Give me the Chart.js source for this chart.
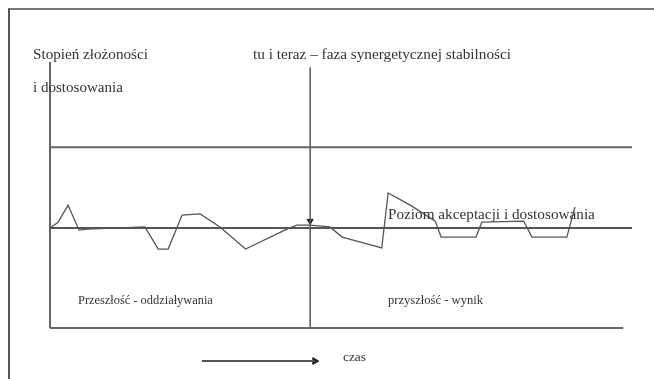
<!DOCTYPE html>
<html><head><meta charset="utf-8">
<script src="https://cdn.jsdelivr.net/npm/chart.js@4/dist/chart.umd.min.js"></script>
<style>
html,body{margin:0;padding:0;background:#fff;overflow:hidden;}
#wrap{position:relative;width:654px;height:379px;}
#frame{position:absolute;left:8px;top:8px;width:700px;height:400px;border-left:2px solid #555;border-top:2px solid #777;box-sizing:border-box;}
canvas{position:absolute;left:0;top:0;}
</style></head>
<body><div id="wrap"><div id="frame"></div><canvas id="c" width="654" height="379"></canvas></div>
<script>
// Conceptual time axis (0..100) and level axis (0..100)
const waveX = [0, 1.4, 3.1, 5.0, 6.4, 16.3, 18.6, 20.3, 22.7, 25.8, 29.2, 33.6, 40.7, 42.4, 44.7, 48.1, 50.2, 57.0, 58.1, 61.9, 66.2, 67.2, 73.2, 74.2, 81.4, 82.8, 88.8, 90.2];
const waveY = [37.6, 39.8, 46.2, 36.8, 37.2, 38.0, 29.7, 29.7, 42.5, 42.9, 38.0, 29.7, 37.2, 38.7, 38.7, 38.0, 34.2, 30.1, 50.8, 46.2, 40.2, 34.2, 34.2, 39.8, 40.2, 34.2, 34.2, 45.5];
const upperLevel = 68;       // upper boundary
const acceptLevel = 37.6;    // "Poziom akceptacji i dostosowania"
const nowX = 44.7;           // "tu i teraz"
const labels = {
  yTitle1: "Stopień złożoności",
  yTitle2: "i dostosowania",
  now: "tu i teraz – faza synergetycznej stabilności",
  accept: "Poziom akceptacji i dostosowania",
  past: "Przeszłość - oddziaływania",
  future: "przyszłość - wynik",
  time: "czas"
};
const timeArrowX = [26.1, 45.5];
const timeArrowY = -12.4;

const pts = (xs, ys) => xs.map((x, i) => ({x, y: ys[i]}));
const lineCol = '#555';

const textPlugin = {
  id: 'texts',
  afterDatasetsDraw(chart) {
    const ctx = chart.ctx;
    ctx.save();
    ctx.fillStyle = '#333';
    ctx.textBaseline = 'middle';
    const fit = (t, x, y, w) => {
      ctx.font = '13px "Liberation Serif"';
      const m = ctx.measureText(t).width;
      const s = 13 * w / m;
      ctx.font = s.toFixed(2) + 'px "Liberation Serif"';
      ctx.fillText(t, x, y);
    };
    fit(labels.yTitle1, 33, 55, 115);
    fit(labels.yTitle2, 33, 88, 90);
    fit(labels.now, 253, 55, 258);
    fit(labels.accept, 388, 215, 207);
    fit(labels.past, 78, 301, 135);
    fit(labels.future, 388, 301, 95);
    fit(labels.time, 343, 357, 23);
    ctx.restore();
  }
};

const base = {showLine: true, borderColor: lineCol, pointRadius: 0, fill: false, clip: false, tension: 0};
new Chart(document.getElementById('c'), {
  type: 'scatter',
  data: {
    datasets: [
      {...base, data: pts([0, 0], [0, 100]), borderWidth: 2, borderColor: '#666'},
      {...base, data: pts([0, 98.5], [0, 0]), borderWidth: 2, borderColor: '#666'},
      {...base, data: pts([0, 100], [upperLevel, upperLevel]), borderWidth: 2, borderColor: '#666'},
      {...base, data: pts([0, 100], [acceptLevel, acceptLevel]), borderWidth: 2, borderColor: '#555'},
      {...base, data: pts([nowX, nowX], [98, 0]), borderWidth: 1.5, borderColor: '#555'},
      {...base, data: pts([nowX], [acceptLevel + 2.6]), showLine: false, pointRadius: 3.5, pointStyle: 'triangle', rotation: 180, backgroundColor: '#222', borderColor: '#222'},
      {...base, data: pts(waveX, waveY), borderWidth: 1.3, borderColor: '#555'},
      {...base, data: pts(timeArrowX, [timeArrowY, timeArrowY]), borderWidth: 2, borderColor: '#555'},
      {...base, data: pts([timeArrowX[1]], [timeArrowY]), showLine: false, pointRadius: 4, pointStyle: 'triangle', rotation: 90, backgroundColor: '#222', borderColor: '#222'}
    ]
  },
  options: {
    responsive: false,
    animation: false,
    events: [],
    layout: {padding: {left: 50, right: 22, top: 62, bottom: 11}},
    plugins: {legend: {display: false}, tooltip: {enabled: false}},
    scales: {
      x: {type: 'linear', min: 0, max: 100, display: false},
      y: {type: 'linear', min: -15, max: 100, display: false}
    }
  },
  plugins: [textPlugin]
});
</script></body></html>
